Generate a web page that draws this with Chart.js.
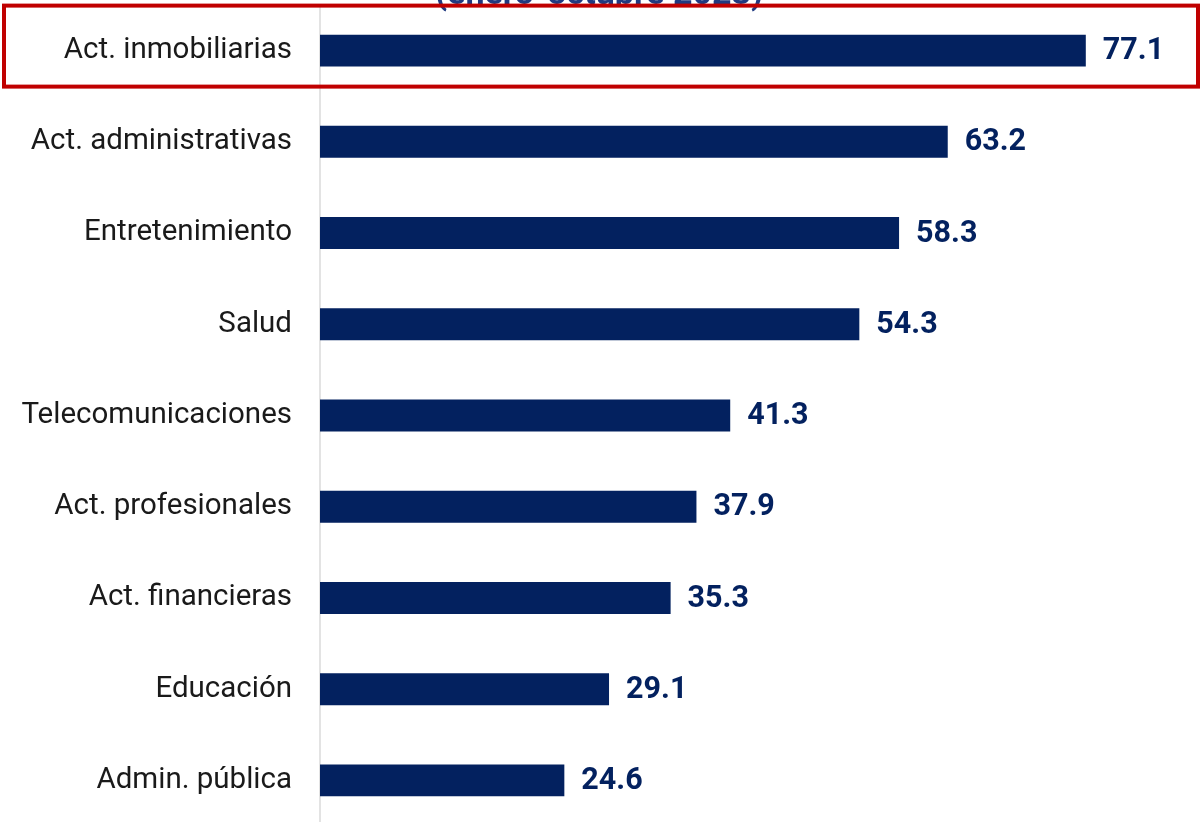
<!DOCTYPE html>
<html>
<head>
<meta charset="utf-8">
<script src="https://cdn.jsdelivr.net/npm/chart.js@4.4.1/dist/chart.umd.min.js"></script>
<style>
  html, body { margin: 0; padding: 0; background: #fff; overflow: hidden; }
  #wrap { position: absolute; left: 0; top: 0; width: 1204px; height: 826px; }
</style>
</head>
<body>
<div id="wrap"><canvas id="myChart"></canvas></div>
<script>
var sectores = ["Act. inmobiliarias", "Act. administrativas", "Entretenimiento", "Salud",
  "Telecomunicaciones", "Act. profesionales", "Act. financieras", "Educación", "Admin. pública"];
var valores = [77.1, 63.2, 58.3, 54.3, 41.3, 37.9, 35.3, 29.1, 24.6];
var titulo = "(enero-octubre 2023)";

var azul = "#03215f";

// value at the end of each bar, title and red frame around the first row
var extras = {
  id: "extras",
  afterDatasetsDraw: function(chart) {
    var ctx = chart.ctx;
    var meta = chart.getDatasetMeta(0);
    ctx.save();
    ctx.fillStyle = azul;
    ctx.font = "bold 30.5px Roboto";
    ctx.textBaseline = "middle";
    ctx.textAlign = "left";
    meta.data.forEach(function(bar, i) {
      ctx.fillText(valores[i].toFixed(1), bar.x + 17, bar.y + 1);
    });

    ctx.fillStyle = "#203a80";
    ctx.font = "bold 34px Roboto";
    ctx.textAlign = "center";
    ctx.textBaseline = "alphabetic";
    ctx.fillText(titulo, 599, 4);

    var y0 = chart.scales.y.getPixelForValue(0);
    ctx.strokeStyle = "#c00000";
    ctx.lineWidth = 4;
    ctx.strokeRect(4, y0 - 45, 1194, 81);
    ctx.restore();
  }
};

new Chart("myChart", {
  type: "bar",
  data: {
    labels: sectores,
    datasets: [{
      data: valores,
      backgroundColor: azul,
      borderWidth: 0,
      barPercentage: 0.35,
      categoryPercentage: 1
    }]
  },
  options: {
    indexAxis: "y",
    responsive: true,
    maintainAspectRatio: false,
    animation: false,
    layout: { padding: { top: 5, right: 0, bottom: 0, left: 0 } },
    plugins: {
      legend: { display: false },
      tooltip: { enabled: false }
    },
    scales: {
      x: {
        display: false,
        min: 0,
        max: 89
      },
      y: {
        grid: { display: false, drawTicks: false },
        border: { display: true, color: "#e3e3e3", width: 2 },
        ticks: {
          color: "#1a1a1a",
          padding: 28,
          font: { family: "Roboto", size: 29.5 }
        },
        afterFit: function(scale) {
          scale.width = 320;
          scale.paddingTop = 0;
          scale.paddingBottom = 0;
        }
      }
    }
  },
  plugins: [extras]
});
</script>
</body>
</html>
